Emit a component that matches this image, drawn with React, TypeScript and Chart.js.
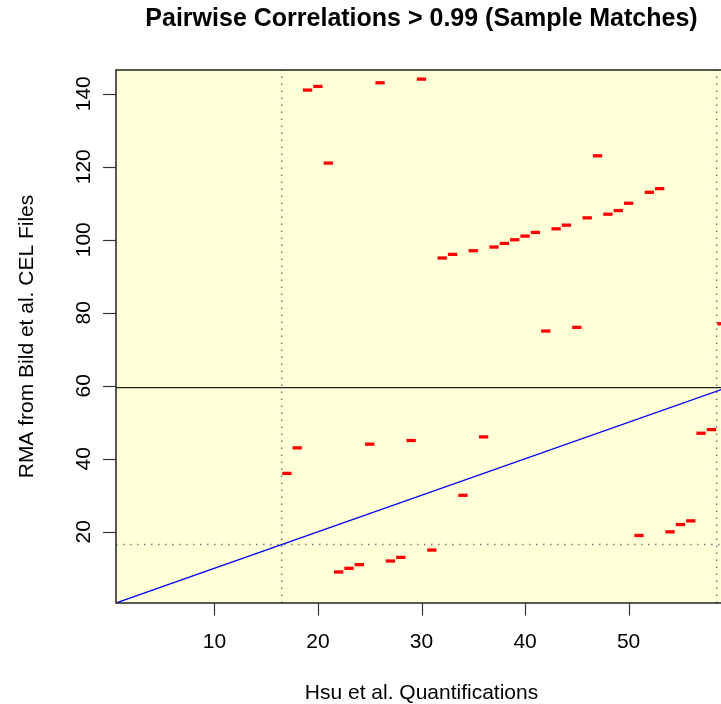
import React, { useEffect, useRef } from "react";
import { Chart, registerables } from "chart.js";

Chart.register(...registerables);

// Matched sample pairs: Hsu index (x) vs RMA / Bild CEL index (y)
const hsuIndex = [
  17, 18, 19, 20, 21, 22, 23, 24, 25, 26, 27, 28, 29, 30, 31, 32, 33, 34, 35, 36, 37, 38,
  39, 40, 41, 42, 43, 44, 45, 46, 47, 48, 49, 50, 51, 52, 53, 54, 55, 56, 57, 58, 59,
];
const rmaIndex = [
  36, 43, 141, 142, 121, 9, 10, 11, 44, 143, 12, 13, 45, 144, 15, 95, 96, 30, 97, 46, 98, 99,
  100, 101, 102, 75, 103, 104, 76, 106, 123, 107, 108, 110, 19, 113, 114, 20, 22, 23, 47, 48, 77,
];
const xTicks = [10, 20, 30, 40, 50];
const yTicks = [20, 40, 60, 80, 100, 120, 140];
const xRange = [0.5, 59.5];
const yRange = [0.5, 146.5];
const dottedX = [16.5, 58.5];
const dottedY = [16.5];
const solidY = [59.5];
const diagonal = [0.5, 59.5];

const TITLE = "Pairwise Correlations > 0.99 (Sample Matches)";
const X_TITLE = "Hsu et al. Quantifications";
const Y_TITLE = "RMA from Bild et al. CEL Files";
const FONT = '"Liberation Sans", Arial, Helvetica, sans-serif';

const decorPlugin = {
  id: "decor",
  beforeDatasetsDraw(chart: any) {
    const { ctx, chartArea: a } = chart;
    ctx.save();
    ctx.fillStyle = "#FFFFD8";
    ctx.fillRect(a.left, a.top, a.right - a.left, a.bottom - a.top);
    ctx.restore();
  },
  afterDatasetsDraw(chart: any) {
    const { ctx, chartArea: a, scales } = chart;
    const xs = scales.x;
    const ys = scales.y;
    ctx.save();
    ctx.beginPath();
    ctx.rect(a.left, a.top, a.right - a.left, a.bottom - a.top);
    ctx.clip();
    // dotted reference lines
    ctx.strokeStyle = "#7a7a7a";
    ctx.lineWidth = 1.5;
    ctx.setLineDash([1.5, 5.5]);
    dottedX.forEach((v) => {
      const p = xs.getPixelForValue(v);
      ctx.beginPath();
      ctx.moveTo(p, a.bottom);
      ctx.lineTo(p, a.top);
      ctx.stroke();
    });
    dottedY.forEach((v) => {
      const p = ys.getPixelForValue(v);
      ctx.beginPath();
      ctx.moveTo(a.left, p);
      ctx.lineTo(a.right, p);
      ctx.stroke();
    });
    ctx.setLineDash([]);
    // solid horizontal
    ctx.strokeStyle = "#222";
    ctx.lineWidth = 1.3;
    solidY.forEach((v) => {
      const p = ys.getPixelForValue(v);
      ctx.beginPath();
      ctx.moveTo(a.left, p);
      ctx.lineTo(a.right, p);
      ctx.stroke();
    });
    // diagonal y = x
    ctx.strokeStyle = "#0000FF";
    ctx.lineWidth = 1.3;
    ctx.beginPath();
    ctx.moveTo(xs.getPixelForValue(diagonal[0]), ys.getPixelForValue(diagonal[0]));
    ctx.lineTo(xs.getPixelForValue(diagonal[1]), ys.getPixelForValue(diagonal[1]));
    ctx.stroke();
    ctx.restore();

    ctx.save();
    // box
    ctx.strokeStyle = "#222";
    ctx.lineWidth = 1.5;
    ctx.strokeRect(a.left, a.top, a.right - a.left, a.bottom - a.top);
    // ticks
    ctx.strokeStyle = "#333";
    ctx.lineWidth = 1.2;
    ctx.fillStyle = "#000";
    ctx.font = `21px ${FONT}`;
    ctx.textAlign = "center";
    ctx.textBaseline = "middle";
    xTicks.forEach((t) => {
      const p = Math.round(xs.getPixelForValue(t)) + 0.5;
      ctx.beginPath();
      ctx.moveTo(p, a.bottom);
      ctx.lineTo(p, a.bottom + 12.5);
      ctx.stroke();
      ctx.fillText(String(t), xs.getPixelForValue(t), a.bottom + 39);
    });
    yTicks.forEach((t) => {
      const p = Math.round(ys.getPixelForValue(t)) + 0.5;
      ctx.beginPath();
      ctx.moveTo(a.left, p);
      ctx.lineTo(a.left - 13, p);
      ctx.stroke();
      ctx.save();
      ctx.translate(a.left - 32, ys.getPixelForValue(t));
      ctx.rotate(-Math.PI / 2);
      ctx.fillText(String(t), 0, 0);
      ctx.restore();
    });
    // titles
    const cx = (a.left + a.right) / 2;
    const cy = (a.top + a.bottom) / 2;
    ctx.font = `bold 25px ${FONT}`;
    ctx.fillText(TITLE, cx, 19);
    ctx.font = `21px ${FONT}`;
    ctx.fillText(X_TITLE, cx, 693);
    ctx.save();
    ctx.translate(27, cy);
    ctx.rotate(-Math.PI / 2);
    ctx.fillText(Y_TITLE, 0, 0);
    ctx.restore();
    ctx.restore();
  },
};

export default function App() {
  const ref = useRef<HTMLCanvasElement | null>(null);
  useEffect(() => {
    document.body.style.margin = "0";
    document.body.style.overflow = "hidden";
    const canvas = ref.current;
    if (!canvas) return;
    const data = hsuIndex.map((x, i) => ({ x, y: [rmaIndex[i] - 0.45, rmaIndex[i] + 0.45] }));
    const chart = new Chart(canvas, {
      type: "bar",
      data: {
        datasets: [
          {
            data: data as any,
            backgroundColor: "#FF0000",
            borderWidth: 0,
            barPercentage: 0.9,
            categoryPercentage: 1,
          },
        ],
      },
      options: {
        animation: false,
        responsive: false,
        devicePixelRatio: 1,
        layout: { padding: { left: 116, right: 13, top: 70, bottom: 101 } },
        plugins: { legend: { display: false }, tooltip: { enabled: false }, title: { display: false } },
        scales: {
          x: { type: "linear", min: xRange[0], max: xRange[1], display: false, offset: false },
          y: { type: "linear", min: yRange[0], max: yRange[1], display: false },
        },
      },
      plugins: [decorPlugin],
    });
    return () => chart.destroy();
  }, []);
  return (
    <div style={{ position: "absolute", left: 0, top: 0, width: 740, height: 704, overflow: "hidden" }}>
      <canvas ref={ref} width={740} height={704} style={{ display: "block", width: 740, height: 704 }} />
    </div>
  );
}
